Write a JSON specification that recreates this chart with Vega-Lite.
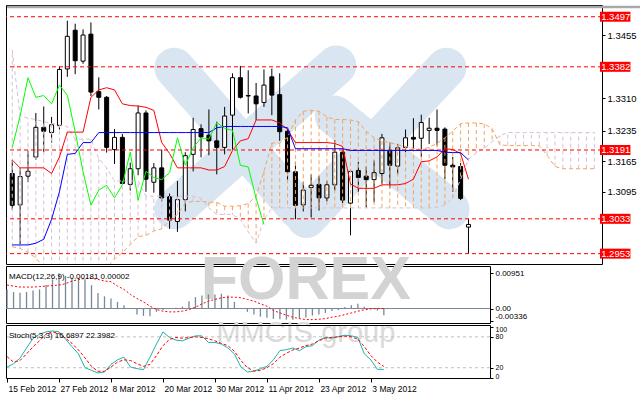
{
  "$schema": "https://vega.github.io/schema/vega-lite/v6.json",
  "background": "white",
  "padding": {"left": 4, "top": 4, "right": 2, "bottom": 2},
  "autosize": {"type": "pad"},
  "bounds": "flush",
  "spacing": 2,
  "config": {
    "view": {"stroke": "black", "strokeWidth": 1},
    "axis": {"domain": false, "grid": false, "labelColor": "black", "tickColor": "black", "labelOverlap": false}
  },
  "resolve": {"scale": {"x": "independent", "y": "independent"}},
  "datasets": {
    "bars": [
      {"i":0,"o":1.3137,"h":1.3168,"l":1.3054,"c":1.3064,"tk":1.3168,"kj":1.2973,"ch":1.3197,"mh":0.00516,"ms":0.00634,"sk":21.3,"sd":41.7},
      {"i":1,"o":1.3065,"h":1.3150,"l":1.2975,"c":1.3130,"tk":1.3150,"kj":1.2973,"ch":1.3269,"mh":0.00444,"ms":0.00607,"sk":27.7,"sd":30.9},
      {"i":2,"o":1.3131,"h":1.3190,"l":1.3117,"c":1.3142,"tk":1.3150,"kj":1.2973,"ch":1.3357,"mh":0.00426,"ms":0.00580,"sk":38.5,"sd":34.0},
      {"i":3,"o":1.3175,"h":1.3276,"l":1.3168,"c":1.3243,"tk":1.3150,"kj":1.2977,"ch":1.3312,"mh":0.00444,"ms":0.00580,"sk":58.3,"sd":46.8},
      {"i":4,"o":1.3243,"h":1.3291,"l":1.3186,"c":1.3234,"tk":1.3150,"kj":1.2986,"ch":1.3316,"mh":0.00489,"ms":0.00580,"sk":76.8,"sd":60.9},
      {"i":5,"o":1.3231,"h":1.3267,"l":1.3208,"c":1.3249,"tk":1.3137,"kj":1.3032,"ch":1.3297,"mh":0.00516,"ms":0.00593,"sk":85.1,"sd":72.3},
      {"i":6,"o":1.3247,"h":1.3383,"l":1.3238,"c":1.3376,"tk":1.3175,"kj":1.3095,"ch":1.3340,"mh":0.00634,"ms":0.00607,"sk":89.6,"sd":85.1},
      {"i":7,"o":1.3377,"h":1.3488,"l":1.3359,"c":1.3452,"tk":1.3232,"kj":1.3181,"ch":1.3317,"mh":0.00788,"ms":0.00620,"sk":91.5,"sd":89.6},
      {"i":8,"o":1.3466,"h":1.3481,"l":1.3365,"c":1.3396,"tk":1.3232,"kj":1.3183,"ch":1.3233,"mh":0.00951,"ms":0.00634,"sk":89.6,"sd":86.4},
      {"i":9,"o":1.3395,"h":1.3468,"l":1.3389,"c":1.3455,"tk":1.3232,"kj":1.3208,"ch":1.3141,"mh":0.0088,"ms":0.00670,"sk":75.5,"sd":77.4},
      {"i":10,"o":1.3457,"h":1.3484,"l":1.3315,"c":1.3324,"tk":1.3312,"kj":1.3208,"ch":1.3064,"mh":0.0083,"ms":0.00743,"sk":60.9,"sd":67.2},
      {"i":11,"o":1.3325,"h":1.3358,"l":1.3284,"c":1.3312,"tk":1.3329,"kj":1.3231,"ch":1.3099,"mh":0.0083,"ms":0.00780,"sk":46.8,"sd":54.5},
      {"i":12,"o":1.3312,"h":1.3315,"l":1.3185,"c":1.3197,"tk":1.3334,"kj":1.3231,"ch":1.3110,"mh":0.0079,"ms":0.00815,"sk":20.0,"sd":39.1},
      {"i":13,"o":1.3192,"h":1.3239,"l":1.3159,"c":1.3220,"tk":1.3329,"kj":1.3231,"ch":1.3081,"mh":0.0063,"ms":0.00815,"sk":14.9,"sd":22.6},
      {"i":14,"o":1.3220,"h":1.3228,"l":1.3113,"c":1.3114,"tk":1.3297,"kj":1.3231,"ch":1.3111,"mh":0.0042,"ms":0.00788,"sk":9.8,"sd":13.0},
      {"i":15,"o":1.3112,"h":1.3162,"l":1.3098,"c":1.3148,"tk":1.3293,"kj":1.3231,"ch":1.3186,"mh":0.0033,"ms":0.00743,"sk":11.7,"sd":13.0},
      {"i":16,"o":1.3148,"h":1.3293,"l":1.3133,"c":1.3276,"tk":1.3292,"kj":1.3231,"ch":1.3076,"mh":0.0027,"ms":0.00725,"sk":26.4,"sd":21.3},
      {"i":17,"o":1.3276,"h":1.3282,"l":1.3095,"c":1.3124,"tk":1.3289,"kj":1.3231,"ch":1.3142,"mh":0.0018,"ms":0.00607,"sk":35.3,"sd":30.9},
      {"i":18,"o":1.3117,"h":1.3161,"l":1.3093,"c":1.3150,"tk":1.3282,"kj":1.3231,"ch":1.3128,"mh":0.0009,"ms":0.00516,"sk":40.4,"sd":35.3},
      {"i":19,"o":1.3150,"h":1.3192,"l":1.3073,"c":1.3081,"tk":1.3208,"kj":1.3231,"ch":1.3123,"mh":0.0001,"ms":0.00380,"sk":21.3,"sd":34.0},
      {"i":20,"o":1.3084,"h":1.3091,"l":1.3010,"c":1.3030,"tk":1.3183,"kj":1.3231,"ch":1.3139,"mh":-0.0016,"ms":0.00272,"sk":18.1,"sd":27.7},
      {"i":21,"o":1.3027,"h":1.3120,"l":1.3003,"c":1.3077,"tk":1.3150,"kj":1.3231,"ch":1.3219,"mh":-0.0020,"ms":0.00181,"sk":16.2,"sd":22.6},
      {"i":22,"o":1.3077,"h":1.3186,"l":1.3050,"c":1.3178,"tk":1.3150,"kj":1.3231,"ch":1.3156,"mh":-0.0021,"ms":0.00063,"sk":40.4,"sd":26.4},
      {"i":23,"o":1.3181,"h":1.3265,"l":1.3142,"c":1.3238,"tk":1.3150,"kj":1.3231,"ch":1.3196,"mh":-0.0009,"ms":-0.00027,"sk":66.0,"sd":43.6},
      {"i":24,"o":1.3240,"h":1.3250,"l":1.3174,"c":1.3221,"tk":1.3150,"kj":1.3231,"ch":1.3219,"mh":-0.0004,"ms":-0.00072,"sk":89.6,"sd":62.8},
      {"i":25,"o":1.3225,"h":1.3284,"l":1.3179,"c":1.3212,"tk":1.3145,"kj":1.3231,"ch":1.3216,"mh":-0.0001,"ms":-0.00091,"sk":78.7,"sd":74.9},
      {"i":26,"o":1.3212,"h":1.3256,"l":1.3135,"c":1.3197,"tk":1.3145,"kj":1.3242,"ch":1.3254,"mh":0.0002,"ms":-0.00091,"sk":73.6,"sd":78.7},
      {"i":27,"o":1.3197,"h":1.3290,"l":1.3181,"c":1.3269,"tk":1.3153,"kj":1.3245,"ch":1.3241,"mh":0.0005,"ms":-0.00072,"sk":72.3,"sd":77.4},
      {"i":28,"o":1.3271,"h":1.3367,"l":1.3192,"c":1.3357,"tk":1.3190,"kj":1.3245,"ch":1.3236,"mh":0.0020,"ms":-0.00027,"sk":77.4,"sd":78.7},
      {"i":29,"o":1.3357,"h":1.3384,"l":1.3309,"c":1.3312,"tk":1.3212,"kj":1.3245,"ch":1.3156,"mh":0.0031,"ms":0.00036,"sk":81.9,"sd":80.0},
      {"i":30,"o":1.3315,"h":1.3374,"l":1.3275,"c":1.3316,"tk":1.3217,"kj":1.3245,"ch":1.3152,"mh":0.0035,"ms":0.00127,"sk":81.9,"sd":78.7},
      {"i":31,"o":1.3315,"h":1.3345,"l":1.3260,"c":1.3297,"tk":1.3260,"kj":1.3245,"ch":1.3080,"mh":0.0038,"ms":0.00199,"sk":69.1,"sd":76.2},
      {"i":32,"o":1.3300,"h":1.3376,"l":1.3290,"c":1.3340,"tk":1.3260,"kj":1.3245,"ch":1.3020,"mh":0.0038,"ms":0.00245,"sk":69.1,"sd":72.3},
      {"i":33,"o":1.3359,"h":1.3378,"l":1.3271,"c":1.3317,"tk":1.3260,"kj":1.3245,"mh":0.0040,"ms":0.0029,"sk":66.0,"sd":67.2},
      {"i":34,"o":1.3318,"h":1.3367,"l":1.3212,"c":1.3233,"tk":1.3253,"kj":1.3245,"mh":0.0035,"ms":0.00308,"sk":58.3,"sd":62.8},
      {"i":35,"o":1.3234,"h":1.3239,"l":1.3120,"c":1.3141,"tk":1.3238,"kj":1.3242,"mh":0.0018,"ms":0.00308,"sk":46.8,"sd":51.9},
      {"i":36,"o":1.3141,"h":1.3164,"l":1.3032,"c":1.3064,"tk":1.3208,"kj":1.3194,"mh":0.0001,"ms":0.0029,"sk":21.3,"sd":34.0},
      {"i":37,"o":1.3065,"h":1.3118,"l":1.3050,"c":1.3099,"tk":1.3208,"kj":1.3194,"mh":-0.0009,"ms":0.00245,"sk":11.7,"sd":20.0},
      {"i":38,"o":1.3105,"h":1.3135,"l":1.3036,"c":1.3110,"tk":1.3208,"kj":1.3194,"mh":-0.0016,"ms":0.00199,"sk":13.0,"sd":13.6},
      {"i":39,"o":1.3112,"h":1.3131,"l":1.3052,"c":1.3081,"tk":1.3208,"kj":1.3194,"mh":-0.0022,"ms":0.00127,"sk":18.1,"sd":14.9},
      {"i":40,"o":1.3081,"h":1.3120,"l":1.3073,"c":1.3111,"tk":1.3208,"kj":1.3194,"mh":-0.0025,"ms":0.00063,"sk":22.6,"sd":20.0},
      {"i":41,"o":1.3111,"h":1.3214,"l":1.3098,"c":1.3186,"tk":1.3206,"kj":1.3194,"mh":-0.0028,"ms":-0.00054,"sk":35.3,"sd":27.7},
      {"i":42,"o":1.3186,"h":1.3190,"l":1.3069,"c":1.3076,"tk":1.3199,"kj":1.3194,"mh":-0.0029,"ms":-0.00118,"sk":53.2,"sd":40.4},
      {"i":43,"o":1.3069,"h":1.3146,"l":1.2995,"c":1.3142,"tk":1.3113,"kj":1.3190,"mh":-0.0030,"ms":-0.00181,"sk":55.1,"sd":48.1},
      {"i":44,"o":1.3144,"h":1.3164,"l":1.3095,"c":1.3128,"tk":1.3103,"kj":1.3190,"mh":-0.0030,"ms":-0.00236,"sk":58.3,"sd":54.5},
      {"i":45,"o":1.3131,"h":1.3153,"l":1.3059,"c":1.3123,"tk":1.3103,"kj":1.3190,"mh":-0.0027,"ms":-0.00272,"sk":53.2,"sd":58.3},
      {"i":46,"o":1.3123,"h":1.3167,"l":1.3071,"c":1.3139,"tk":1.3103,"kj":1.3190,"mh":-0.0024,"ms":-0.00299,"sk":60.9,"sd":62.8},
      {"i":47,"o":1.3137,"h":1.3228,"l":1.3113,"c":1.3219,"tk":1.3111,"kj":1.3190,"mh":-0.0019,"ms":-0.00299,"sk":62.8,"sd":66.0},
      {"i":48,"o":1.3189,"h":1.3208,"l":1.3103,"c":1.3156,"tk":1.3111,"kj":1.3190,"mh":-0.0016,"ms":-0.0029,"sk":73.6,"sd":72.3},
      {"i":49,"o":1.3154,"h":1.3205,"l":1.3135,"c":1.3196,"tk":1.3111,"kj":1.3190,"mh":-0.0012,"ms":-0.00272,"sk":78.7,"sd":77.4},
      {"i":50,"o":1.3197,"h":1.3238,"l":1.3186,"c":1.3219,"tk":1.3114,"kj":1.3190,"mh":-0.0007,"ms":-0.00236,"sk":77.4,"sd":78.7},
      {"i":51,"o":1.3220,"h":1.3264,"l":1.3190,"c":1.3216,"tk":1.3124,"kj":1.3190,"mh":-0.0004,"ms":-0.00208,"sk":80.6,"sd":80.0},
      {"i":52,"o":1.3218,"h":1.3272,"l":1.3175,"c":1.3254,"tk":1.3164,"kj":1.3190,"mh":0.0004,"ms":-0.00163,"sk":83.2,"sd":81.3},
      {"i":53,"o":1.3236,"h":1.3265,"l":1.3205,"c":1.3241,"tk":1.3166,"kj":1.3190,"mh":0.0009,"ms":-0.00118,"sk":81.9,"sd":80.0},
      {"i":54,"o":1.3241,"h":1.3284,"l":1.3201,"c":1.3236,"tk":1.3175,"kj":1.3190,"mh":0.0013,"ms":-0.00072,"sk":78.7,"sd":75.5},
      {"i":55,"o":1.3239,"h":1.3243,"l":1.3124,"c":1.3156,"tk":1.3194,"kj":1.3186,"mh":0.0005,"ms":-0.00036,"sk":46.8,"sd":60.9},
      {"i":56,"o":1.3156,"h":1.3175,"l":1.3095,"c":1.3152,"tk":1.3192,"kj":1.3185,"mh":0.0001,"ms":-0.00009,"sk":35.3,"sd":43.6},
      {"i":57,"o":1.3153,"h":1.3161,"l":1.3076,"c":1.3080,"tk":1.3183,"kj":1.3185,"mh":-0.0005,"ms":0.0,"sk":16.8,"sd":30.9},
      {"i":58,"o":1.3014,"h":1.3033,"l":1.2953,"c":1.3020,"tk":1.3124,"kj":1.3168,"mh":-0.00181,"ms":0.00002,"sk":16.7,"sd":22.4}
    ],
    "cloud": [
      {"i":0,"sa":1.2969,"sb":1.3420},{"i":1,"sa":1.2965,"sb":1.3270},{"i":2,"sa":1.2956,"sb":1.3264},
      {"i":3,"sa":1.2943,"sb":1.3261},{"i":4,"sa":1.2921,"sb":1.3256},{"i":5,"sa":1.2921,"sb":1.3252},
      {"i":6,"sa":1.2921,"sb":1.3249},{"i":7,"sa":1.2921,"sb":1.3245},{"i":8,"sa":1.2921,"sb":1.3216},
      {"i":9,"sa":1.2921,"sb":1.3216},{"i":10,"sa":1.2921,"sb":1.3216},{"i":11,"sa":1.2921,"sb":1.3172},
      {"i":12,"sa":1.2921,"sb":1.3150},{"i":13,"sa":1.2941,"sb":1.3120},{"i":14,"sa":1.2955,"sb":1.3120},
      {"i":15,"sa":1.2974,"sb":1.3120},{"i":16,"sa":1.2992,"sb":1.3120},{"i":17,"sa":1.2995,"sb":1.3085},
      {"i":18,"sa":1.3005,"sb":1.3085},{"i":19,"sa":1.3010,"sb":1.3085},{"i":20,"sa":1.3029,"sb":1.3085},
      {"i":21,"sa":1.3043,"sb":1.3085},{"i":22,"sa":1.3069,"sb":1.3085},{"i":23,"sa":1.3073,"sb":1.3085},
      {"i":24,"sa":1.3073,"sb":1.3080},{"i":25,"sa":1.3071,"sb":1.3058},{"i":26,"sa":1.3071,"sb":1.3043},
      {"i":27,"sa":1.3062,"sb":1.3043},{"i":28,"sa":1.3062,"sb":1.3043},{"i":29,"sa":1.3063,"sb":1.3031},
      {"i":30,"sa":1.3068,"sb":1.3003},{"i":31,"sa":1.3085,"sb":1.2977},{"i":32,"sa":1.3142,"sb":1.3031},
      {"i":33,"sa":1.3207,"sb":1.3058},{"i":34,"sa":1.3207,"sb":1.3058},{"i":35,"sa":1.3220,"sb":1.3058},
      {"i":36,"sa":1.3260,"sb":1.3058},{"i":37,"sa":1.3280,"sb":1.3058},{"i":38,"sa":1.3282,"sb":1.3058},
      {"i":39,"sa":1.3280,"sb":1.3058},{"i":40,"sa":1.3267,"sb":1.3058},{"i":41,"sa":1.3261,"sb":1.3058},
      {"i":42,"sa":1.3261,"sb":1.3058},{"i":43,"sa":1.3260,"sb":1.3058},{"i":44,"sa":1.3256,"sb":1.3058},
      {"i":45,"sa":1.3234,"sb":1.3058},{"i":46,"sa":1.3219,"sb":1.3058},{"i":47,"sa":1.3212,"sb":1.3058},
      {"i":48,"sa":1.3208,"sb":1.3058},{"i":49,"sa":1.3203,"sb":1.3058},{"i":50,"sa":1.3199,"sb":1.3058},
      {"i":51,"sa":1.3195,"sb":1.3058},{"i":52,"sa":1.3192,"sb":1.3058},{"i":53,"sa":1.3197,"sb":1.3058},
      {"i":54,"sa":1.3206,"sb":1.3060},{"i":55,"sa":1.3219,"sb":1.3064},{"i":56,"sa":1.3234,"sb":1.3080},
      {"i":57,"sa":1.3252,"sb":1.3124},{"i":58,"sa":1.3253,"sb":1.3170},{"i":59,"sa":1.3253,"sb":1.3184},
      {"i":60,"sa":1.3251,"sb":1.3195},{"i":61,"sa":1.3240,"sb":1.3210},{"i":62,"sa":1.3203,"sb":1.3224},
      {"i":63,"sa":1.3201,"sb":1.3231},{"i":64,"sa":1.3201,"sb":1.3231},{"i":65,"sa":1.3201,"sb":1.3231},
      {"i":66,"sa":1.3201,"sb":1.3231},{"i":67,"sa":1.3201,"sb":1.3231},{"i":68,"sa":1.3179,"sb":1.3231},
      {"i":69,"sa":1.3153,"sb":1.3231},{"i":70,"sa":1.3148,"sb":1.3231},{"i":71,"sa":1.3148,"sb":1.3231},
      {"i":72,"sa":1.3148,"sb":1.3231},{"i":73,"sa":1.3148,"sb":1.3231},{"i":74,"sa":1.3148,"sb":1.3231}
    ],
    "levels": [{"p":1.3497},{"p":1.3382},{"p":1.3191},{"p":1.3033},{"p":1.2953}],
    "notes": [{"t":"FOREX","u":"MMCIS group","m":"MACD(12,26,9) -0.00181 0.00002","s":"Stoch(5,3,3) 16.6897 22.3982"}]
  },
  "vconcat": [
    {
      "width": 596,
      "height": 259,
      "layer": [
        {
          "data": {"name": "notes"},
          "mark": {"type": "rule", "color": "#a8a8a8", "strokeWidth": 2.5, "clip": false},
          "encoding": {
            "x": {"datum": -0.66, "type": "quantitative", "scale": {"domain": [-0.16, 74.34], "nice": false, "zero": false}, "axis": null},
            "x2": {"datum": 79.8},
            "y": {"datum": 1.35191, "type": "quantitative", "scale": {"domain": [1.294071, 1.351245], "nice": false, "zero": false},
                  "axis": {"orient": "right", "title": null, "values": [1.3455, 1.331, 1.3235, 1.3165, 1.3095], "format": ".4f", "tickSize": 3, "labelPadding": 2, "labelFont": "Liberation Sans", "labelFontSize": 9.5}}
          }
        },
        {
          "data": {"name": "notes"},
          "mark": {"type": "rule", "color": "#d9e5f0", "strokeWidth": 40, "strokeCap": "round"},
          "encoding": {
            "x": {"datum": 20.6, "type": "quantitative", "scale": {"domain": [-0.16, 74.34], "nice": false, "zero": false}, "axis": null},
            "x2": {"datum": 36.4},
            "y": {"datum": 1.3380, "type": "quantitative",
                  "axis": {"orient": "right", "title": null, "values": [1.3455, 1.331, 1.3235, 1.3165, 1.3095], "format": ".4f", "tickSize": 3, "labelPadding": 2, "labelFont": "Liberation Sans", "labelFontSize": 9.5}},
            "y2": {"datum": 1.3055}
          }
        },
        {
          "data": {"name": "notes"},
          "mark": {"type": "rule", "color": "#d9e5f0", "strokeWidth": 40, "strokeCap": "round"},
          "encoding": {
            "x": {"datum": 41.2, "type": "quantitative", "scale": {"domain": [-0.16, 74.34], "nice": false, "zero": false}, "axis": null},
            "x2": {"datum": 20.6},
            "y": {"datum": 1.3385, "type": "quantitative",
                  "axis": {"orient": "right", "title": null, "values": [1.3455, 1.331, 1.3235, 1.3165, 1.3095], "format": ".4f", "tickSize": 3, "labelPadding": 2, "labelFont": "Liberation Sans", "labelFontSize": 9.5}},
            "y2": {"datum": 1.3055}
          }
        },
        {
          "data": {"name": "notes"},
          "mark": {"type": "rule", "color": "#d9e5f0", "strokeWidth": 40, "strokeCap": "round"},
          "encoding": {
            "x": {"datum": 55.2, "type": "quantitative", "scale": {"domain": [-0.16, 74.34], "nice": false, "zero": false}, "axis": null},
            "x2": {"datum": 37.4},
            "y": {"datum": 1.3380, "type": "quantitative",
                  "axis": {"orient": "right", "title": null, "values": [1.3455, 1.331, 1.3235, 1.3165, 1.3095], "format": ".4f", "tickSize": 3, "labelPadding": 2, "labelFont": "Liberation Sans", "labelFontSize": 9.5}},
            "y2": {"datum": 1.3035}
          }
        },
        {
          "data": {"name": "notes"},
          "mark": {"type": "rule", "color": "#d9e5f0", "strokeWidth": 40, "strokeCap": "round"},
          "encoding": {
            "x": {"datum": 41.0, "type": "quantitative", "scale": {"domain": [-0.16, 74.34], "nice": false, "zero": false}, "axis": null},
            "x2": {"datum": 55.6},
            "y": {"datum": 1.3270, "type": "quantitative",
                  "axis": {"orient": "right", "title": null, "values": [1.3455, 1.331, 1.3235, 1.3165, 1.3095], "format": ".4f", "tickSize": 3, "labelPadding": 2, "labelFont": "Liberation Sans", "labelFontSize": 9.5}},
            "y2": {"datum": 1.3055}
          }
        },
        {
          "data": {"name": "bars"},
          "mark": {"type": "rule", "color": "black", "strokeWidth": 1},
          "encoding": {
            "x": {"field": "i", "type": "quantitative", "scale": {"domain": [-0.16, 74.34], "nice": false, "zero": false}, "axis": null},
            "y": {"field": "l", "type": "quantitative",
                  "axis": {"orient": "right", "title": null, "values": [1.3455, 1.331, 1.3235, 1.3165, 1.3095], "format": ".4f", "tickSize": 3, "labelPadding": 2, "labelFont": "Liberation Sans", "labelFontSize": 9.5}},
            "y2": {"field": "h"}
          }
        },
        {
          "data": {"name": "bars"},
          "mark": {"type": "bar", "size": 4, "stroke": "black", "strokeWidth": 1},
          "encoding": {
            "x": {"field": "i", "type": "quantitative", "scale": {"domain": [-0.16, 74.34], "nice": false, "zero": false}, "axis": null},
            "y": {"field": "o", "type": "quantitative",
                  "axis": {"orient": "right", "title": null, "values": [1.3455, 1.331, 1.3235, 1.3165, 1.3095], "format": ".4f", "tickSize": 3, "labelPadding": 2, "labelFont": "Liberation Sans", "labelFontSize": 9.5}},
            "y2": {"field": "c"},
            "fill": {"condition": {"test": "datum.c >= datum.o", "value": "white"}, "value": "black"}
          }
        },
        {
          "data": {"name": "cloud"},
          "mark": {"type": "rule", "strokeWidth": 1, "strokeDash": [4, 3], "clip": true},
          "encoding": {
            "x": {"field": "i", "type": "quantitative", "scale": {"domain": [-0.16, 74.34], "nice": false, "zero": false}, "axis": null},
            "y": {"field": "sa", "type": "quantitative",
                  "axis": {"orient": "right", "title": null, "values": [1.3455, 1.331, 1.3235, 1.3165, 1.3095], "format": ".4f", "tickSize": 3, "labelPadding": 2, "labelFont": "Liberation Sans", "labelFontSize": 9.5}},
            "y2": {"field": "sb"},
            "color": {"condition": {"test": "datum.sa >= datum.sb", "value": "#F4A460"}, "value": "#D8BFD8"}
          }
        },
        {
          "data": {"name": "cloud"},
          "mark": {"type": "line", "color": "#F4A460", "strokeWidth": 1, "strokeDash": [4, 3], "clip": true},
          "encoding": {
            "x": {"field": "i", "type": "quantitative", "scale": {"domain": [-0.16, 74.34], "nice": false, "zero": false}, "axis": null},
            "y": {"field": "sa", "type": "quantitative",
                  "axis": {"orient": "right", "title": null, "values": [1.3455, 1.331, 1.3235, 1.3165, 1.3095], "format": ".4f", "tickSize": 3, "labelPadding": 2, "labelFont": "Liberation Sans", "labelFontSize": 9.5}}
          }
        },
        {
          "data": {"name": "cloud"},
          "mark": {"type": "line", "color": "#D8BFD8", "strokeWidth": 1, "strokeDash": [4, 3], "clip": true},
          "encoding": {
            "x": {"field": "i", "type": "quantitative", "scale": {"domain": [-0.16, 74.34], "nice": false, "zero": false}, "axis": null},
            "y": {"field": "sb", "type": "quantitative",
                  "axis": {"orient": "right", "title": null, "values": [1.3455, 1.331, 1.3235, 1.3165, 1.3095], "format": ".4f", "tickSize": 3, "labelPadding": 2, "labelFont": "Liberation Sans", "labelFontSize": 9.5}}
          }
        },
        {
          "data": {"name": "levels"},
          "mark": {"type": "rule", "color": "#ff0000", "strokeWidth": 1, "strokeDash": [4, 3]},
          "encoding": {
            "y": {"field": "p", "type": "quantitative",
                  "axis": {"orient": "right", "title": null, "values": [1.3455, 1.331, 1.3235, 1.3165, 1.3095], "format": ".4f", "tickSize": 3, "labelPadding": 2, "labelFont": "Liberation Sans", "labelFontSize": 9.5}}
          }
        },
        {
          "data": {"name": "bars"},
          "mark": {"type": "line", "color": "#ff0000", "strokeWidth": 1},
          "encoding": {
            "x": {"field": "i", "type": "quantitative", "scale": {"domain": [-0.16, 74.34], "nice": false, "zero": false}, "axis": null},
            "y": {"field": "tk", "type": "quantitative",
                  "axis": {"orient": "right", "title": null, "values": [1.3455, 1.331, 1.3235, 1.3165, 1.3095], "format": ".4f", "tickSize": 3, "labelPadding": 2, "labelFont": "Liberation Sans", "labelFontSize": 9.5}}
          }
        },
        {
          "data": {"name": "bars"},
          "mark": {"type": "line", "color": "#0000ff", "strokeWidth": 1},
          "encoding": {
            "x": {"field": "i", "type": "quantitative", "scale": {"domain": [-0.16, 74.34], "nice": false, "zero": false}, "axis": null},
            "y": {"field": "kj", "type": "quantitative",
                  "axis": {"orient": "right", "title": null, "values": [1.3455, 1.331, 1.3235, 1.3165, 1.3095], "format": ".4f", "tickSize": 3, "labelPadding": 2, "labelFont": "Liberation Sans", "labelFontSize": 9.5}}
          }
        },
        {
          "data": {"name": "bars"},
          "mark": {"type": "line", "color": "#00ff00", "strokeWidth": 1},
          "encoding": {
            "x": {"field": "i", "type": "quantitative", "scale": {"domain": [-0.16, 74.34], "nice": false, "zero": false}, "axis": null},
            "y": {"field": "ch", "type": "quantitative",
                  "axis": {"orient": "right", "title": null, "values": [1.3455, 1.331, 1.3235, 1.3165, 1.3095], "format": ".4f", "tickSize": 3, "labelPadding": 2, "labelFont": "Liberation Sans", "labelFontSize": 9.5}}
          }
        },
        {
          "data": {"name": "levels"},
          "mark": {"type": "bar", "color": "#ff0000", "size": 10, "clip": false},
          "encoding": {
            "x": {"datum": 74.715, "type": "quantitative", "scale": {"domain": [-0.16, 74.34], "nice": false, "zero": false}, "axis": null},
            "x2": {"datum": 78.59},
            "y": {"field": "p", "type": "quantitative",
                  "axis": {"orient": "right", "title": null, "values": [1.3455, 1.331, 1.3235, 1.3165, 1.3095], "format": ".4f", "tickSize": 3, "labelPadding": 2, "labelFont": "Liberation Sans", "labelFontSize": 9.5}}
          }
        },
        {
          "data": {"name": "levels"},
          "mark": {"type": "text", "color": "white", "align": "left", "baseline": "middle", "font": "Liberation Sans", "fontSize": 9.5},
          "encoding": {
            "x": {"datum": 74.87, "type": "quantitative", "scale": {"domain": [-0.16, 74.34], "nice": false, "zero": false}, "axis": null},
            "y": {"field": "p", "type": "quantitative",
                  "axis": {"orient": "right", "title": null, "values": [1.3455, 1.331, 1.3235, 1.3165, 1.3095], "format": ".4f", "tickSize": 3, "labelPadding": 2, "labelFont": "Liberation Sans", "labelFontSize": 9.5}},
            "text": {"field": "p", "type": "quantitative", "format": ".4f"}
          }
        }
      ]
    },
    {
      "width": 484,
      "height": 57,
      "layer": [
        {
          "data": {"name": "notes"},
          "mark": {"type": "text", "color": "#d3d3d3", "font": "Liberation Sans", "fontWeight": "bold", "fontSize": 61, "align": "center", "baseline": "middle"},
          "encoding": {
            "x": {"datum": 46.0, "type": "quantitative", "scale": {"domain": [-0.16, 74.34], "nice": false, "zero": false}, "axis": null},
            "y": {"datum": 0.0074, "type": "quantitative", "scale": {"domain": [-0.00391, 0.01149], "nice": false, "zero": false},
                  "axis": {"orient": "right", "title": null, "values": [0.00951, 0, -0.00336], "labelExpr": "datum.value == 0 ? '0.00' : (datum.value > 0 ? '0.00951' : '-0.00336')", "tickSize": 3, "labelPadding": 2, "labelFont": "Liberation Sans", "labelFontSize": 8, "labelBaseline": {"condition": {"test": "datum.value < 0", "value": "bottom"}, "value": "middle"}}},
            "text": {"field": "t"}
          }
        },
        {
          "data": {"name": "notes"},
          "mark": {"type": "text", "color": "#dadada", "font": "Liberation Sans", "fontSize": 29, "align": "center", "baseline": "middle"},
          "encoding": {
            "x": {"datum": 46.0, "type": "quantitative", "scale": {"domain": [-0.16, 74.34], "nice": false, "zero": false}, "axis": null},
            "y": {"datum": -0.0065, "type": "quantitative",
                  "axis": {"orient": "right", "title": null, "values": [0.00951, 0, -0.00336], "labelExpr": "datum.value == 0 ? '0.00' : (datum.value > 0 ? '0.00951' : '-0.00336')", "tickSize": 3, "labelPadding": 2, "labelFont": "Liberation Sans", "labelFontSize": 8, "labelBaseline": {"condition": {"test": "datum.value < 0", "value": "bottom"}, "value": "middle"}}},
            "text": {"field": "u"}
          }
        },
        {
          "data": {"name": "notes"},
          "mark": {"type": "rule", "color": "#778899", "strokeWidth": 1},
          "encoding": {
            "y": {"datum": 0, "type": "quantitative",
                  "axis": {"orient": "right", "title": null, "values": [0.00951, 0, -0.00336], "labelExpr": "datum.value == 0 ? '0.00' : (datum.value > 0 ? '0.00951' : '-0.00336')", "tickSize": 3, "labelPadding": 2, "labelFont": "Liberation Sans", "labelFontSize": 8, "labelBaseline": {"condition": {"test": "datum.value < 0", "value": "bottom"}, "value": "middle"}}}
          }
        },
        {
          "data": {"name": "bars"},
          "mark": {"type": "rule", "color": "#778899", "strokeWidth": 1.3},
          "encoding": {
            "x": {"field": "i", "type": "quantitative", "scale": {"domain": [-0.16, 74.34], "nice": false, "zero": false}, "axis": null},
            "y": {"field": "mh", "type": "quantitative",
                  "axis": {"orient": "right", "title": null, "values": [0.00951, 0, -0.00336], "labelExpr": "datum.value == 0 ? '0.00' : (datum.value > 0 ? '0.00951' : '-0.00336')", "tickSize": 3, "labelPadding": 2, "labelFont": "Liberation Sans", "labelFontSize": 8, "labelBaseline": {"condition": {"test": "datum.value < 0", "value": "bottom"}, "value": "middle"}}},
            "y2": {"datum": 0}
          }
        },
        {
          "data": {"name": "bars"},
          "mark": {"type": "line", "color": "#ff0000", "strokeWidth": 1, "strokeDash": [2, 2]},
          "encoding": {
            "x": {"field": "i", "type": "quantitative", "scale": {"domain": [-0.16, 74.34], "nice": false, "zero": false}, "axis": null},
            "y": {"field": "ms", "type": "quantitative",
                  "axis": {"orient": "right", "title": null, "values": [0.00951, 0, -0.00336], "labelExpr": "datum.value == 0 ? '0.00' : (datum.value > 0 ? '0.00951' : '-0.00336')", "tickSize": 3, "labelPadding": 2, "labelFont": "Liberation Sans", "labelFontSize": 8, "labelBaseline": {"condition": {"test": "datum.value < 0", "value": "bottom"}, "value": "middle"}}}
          }
        },
        {
          "data": {"name": "notes"},
          "mark": {"type": "text", "color": "black", "font": "Liberation Sans", "fontSize": 8, "align": "left", "baseline": "middle"},
          "encoding": {
            "x": {"datum": 0.3, "type": "quantitative", "scale": {"domain": [-0.16, 74.34], "nice": false, "zero": false}, "axis": null},
            "y": {"datum": 0.0086, "type": "quantitative",
                  "axis": {"orient": "right", "title": null, "values": [0.00951, 0, -0.00336], "labelExpr": "datum.value == 0 ? '0.00' : (datum.value > 0 ? '0.00951' : '-0.00336')", "tickSize": 3, "labelPadding": 2, "labelFont": "Liberation Sans", "labelFontSize": 8, "labelBaseline": {"condition": {"test": "datum.value < 0", "value": "bottom"}, "value": "middle"}}},
            "text": {"field": "m"}
          }
        }
      ]
    },
    {
      "width": 484,
      "height": 53,
      "layer": [
        {
          "data": {"name": "notes"},
          "mark": {"type": "rule", "color": "#c0c0c0", "strokeWidth": 1, "strokeDash": [3, 3]},
          "encoding": {
            "y": {"datum": 80, "type": "quantitative", "scale": {"domain": [0, 103], "nice": false, "zero": false},
                  "axis": {"orient": "right", "title": null, "values": [0, 20, 80, 100], "tickSize": 3, "labelPadding": 2, "labelFlush": 5, "labelFlushOffset": 1, "labelFont": "Liberation Sans", "labelFontSize": 7}}
          }
        },
        {
          "data": {"name": "notes"},
          "mark": {"type": "rule", "color": "#c0c0c0", "strokeWidth": 1, "strokeDash": [3, 3]},
          "encoding": {
            "y": {"datum": 20, "type": "quantitative",
                  "axis": {"orient": "right", "title": null, "values": [0, 20, 80, 100], "tickSize": 3, "labelPadding": 2, "labelFlush": 5, "labelFlushOffset": 1, "labelFont": "Liberation Sans", "labelFontSize": 7}}
          }
        },
        {
          "data": {"name": "bars"},
          "mark": {"type": "line", "color": "#20B2AA", "strokeWidth": 1},
          "encoding": {
            "x": {"field": "i", "type": "quantitative", "scale": {"domain": [-0.16, 74.34], "nice": false, "zero": false},
                  "axis": {"orient": "bottom", "title": null, "values": [0, 8, 16, 24, 32, 40, 48, 56], "labelExpr": "['15 Feb 2012','27 Feb 2012','8 Mar 2012','20 Mar 2012','30 Mar 2012','11 Apr 2012','23 Apr 2012','3 May 2012'][round(datum.value / 8)]", "labelAlign": "left", "labelBaseline": "top", "labelOffset": 1, "labelFlush": false, "tickSize": 4, "labelPadding": 2, "labelFont": "Liberation Sans", "labelFontSize": 8.5}},
            "y": {"field": "sk", "type": "quantitative",
                  "axis": {"orient": "right", "title": null, "values": [0, 20, 80, 100], "tickSize": 3, "labelPadding": 2, "labelFlush": 5, "labelFlushOffset": 1, "labelFont": "Liberation Sans", "labelFontSize": 7}}
          }
        },
        {
          "data": {"name": "bars"},
          "mark": {"type": "line", "color": "#ff0000", "strokeWidth": 1, "strokeDash": [3, 2]},
          "encoding": {
            "x": {"field": "i", "type": "quantitative", "scale": {"domain": [-0.16, 74.34], "nice": false, "zero": false},
                  "axis": {"orient": "bottom", "title": null, "values": [0, 8, 16, 24, 32, 40, 48, 56], "labelExpr": "['15 Feb 2012','27 Feb 2012','8 Mar 2012','20 Mar 2012','30 Mar 2012','11 Apr 2012','23 Apr 2012','3 May 2012'][round(datum.value / 8)]", "labelAlign": "left", "labelBaseline": "top", "labelOffset": 1, "labelFlush": false, "tickSize": 4, "labelPadding": 2, "labelFont": "Liberation Sans", "labelFontSize": 8.5}},
            "y": {"field": "sd", "type": "quantitative",
                  "axis": {"orient": "right", "title": null, "values": [0, 20, 80, 100], "tickSize": 3, "labelPadding": 2, "labelFlush": 5, "labelFlushOffset": 1, "labelFont": "Liberation Sans", "labelFontSize": 7}}
          }
        },
        {
          "data": {"name": "notes"},
          "mark": {"type": "text", "color": "black", "font": "Liberation Sans", "fontSize": 8, "align": "left", "baseline": "middle"},
          "encoding": {
            "x": {"datum": 0.3, "type": "quantitative", "scale": {"domain": [-0.16, 74.34], "nice": false, "zero": false},
                  "axis": {"orient": "bottom", "title": null, "values": [0, 8, 16, 24, 32, 40, 48, 56], "labelExpr": "['15 Feb 2012','27 Feb 2012','8 Mar 2012','20 Mar 2012','30 Mar 2012','11 Apr 2012','23 Apr 2012','3 May 2012'][round(datum.value / 8)]", "labelAlign": "left", "labelBaseline": "top", "labelOffset": 1, "labelFlush": false, "tickSize": 4, "labelPadding": 2, "labelFont": "Liberation Sans", "labelFontSize": 8.5}},
            "y": {"datum": 82, "type": "quantitative",
                  "axis": {"orient": "right", "title": null, "values": [0, 20, 80, 100], "tickSize": 3, "labelPadding": 2, "labelFlush": 5, "labelFlushOffset": 1, "labelFont": "Liberation Sans", "labelFontSize": 7}},
            "text": {"field": "s"}
          }
        }
      ]
    }
  ]
}
